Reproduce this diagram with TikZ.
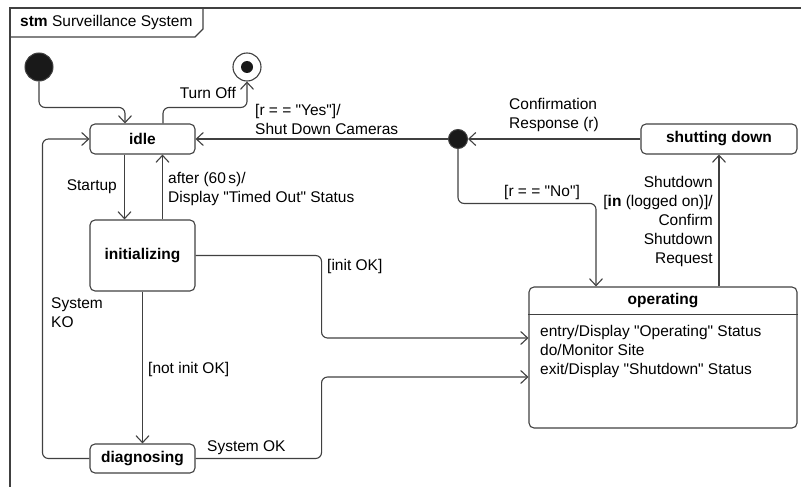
\documentclass[tikz,border=0pt]{standalone}
\usepackage{fontspec}
\setmainfont{Liberation Sans}
\usetikzlibrary{arrows.meta}
\newcommand\qt[1]{\textquotedbl#1\textquotedbl}
\begin{document}
\begin{tikzpicture}[x=1pt,y=-1pt,
  every node/.style={font=\fontsize{15.5}{19}\selectfont, inner sep=0pt},
  ln/.style={draw=black!75, line width=1.1pt},
  state/.style={ln, rounded corners=5pt, font=\fontsize{15.5}{19}\selectfont\bfseries},
  tr/.style={ln, rounded corners=6pt, -{Straight Barb[length=7pt,width=13pt,line width=1.1pt]}},
  lbl/.style={align=left},
  pseudo/.style={circle, fill=black!90, draw=black!75, line width=1pt}]
\useasboundingbox (0,0) rectangle (801,487);

% frame and title tab
\draw[ln] (801,8) -- (10,8) -- (10,487);
\draw[ln] (10,37) -- (195,37) -- (203,29) -- (203,8);
\node[anchor=west] (title) at (20,22) {\textbf{stm} Surveillance System};

% pseudostates
\node[pseudo, minimum size=28pt] (init) at (39,67) {};
\node[circle, ln, minimum size=28pt, fill=white] (final) at (247,67) {};
\node[circle, fill=black!90, minimum size=12pt] (finaldot) at (final.center) {};
\node[pseudo, minimum size=19pt] (junc) at (458,139) {};

% states
\node[state, minimum width=105pt, minimum height=30pt] (idle) at (142.5,139) {idle};
\node[state, minimum width=105pt, minimum height=71pt] (ini) at (142.5,255.5) {initializing};
\node[state, minimum width=105pt, minimum height=29pt] (diag) at (142.5,458.5) {diagnosing};
\node[state, minimum width=156pt, minimum height=30pt] (sd) at (719,139) {shutting down};
\node[state, minimum width=268pt, minimum height=141pt] (op) at (663,357.5) {};
\draw[ln] ([yshift=-28pt]op.north west) -- ([yshift=-28pt]op.north east);
\node[font=\fontsize{15.5}{19}\selectfont\bfseries] (opname) at ([yshift=-14pt]op.north) {operating};
\node[anchor=west, lbl] (opbody) at (540,351) {entry/Display \qt{Operating} Status\\do/Monitor Site\\exit/Display \qt{Shutdown} Status};

% transitions
\draw[tr] (init.south) |- ([xshift=-17.5pt,yshift=16pt]idle.north) -- ([xshift=-17.5pt]idle.north);
\draw[tr] ([xshift=20.5pt]idle.north) -- ++(0,-16) -| (final.south);
\draw[tr] (junc.west) -- (idle.east);
\draw[tr] (sd.west) -- (junc.east);
\draw[tr] (junc.south) |- ([xshift=-67pt,yshift=83pt]op.north) -- ([xshift=-67pt]op.north);
\draw[tr] (op.north -| sd.south) -- (sd.south);
\draw[tr] ([xshift=-18pt]idle.south) -- ([xshift=-18pt]ini.north);
\draw[tr] ([xshift=20pt]ini.north) -- ([xshift=20pt]idle.south);
\draw[tr] (ini.south) -- (diag.north);
\draw[tr] (diag.west) -- ++(-47,0) |- (idle.west);
\draw[tr] (ini.east) -- ++(126,0) |- ([yshift=19.5pt]op.west);
\draw[tr] (diag.east) -- ++(126,0) |- ([yshift=-19.5pt]op.west);

% transition labels
\node[anchor=east] (lturnoff) at (236,93) {Turn Off};
\node[anchor=west, lbl] (lyes) at (255,119) {[r = = \qt{Yes}]/\\Shut Down Cameras};
\node[anchor=west, lbl] (lconf) at (509,114.5) {Confirmation\\Response (r)};
\node[anchor=west] (lno) at (504,192) {[r = = \qt{No}]};
\node[anchor=east, align=right] (lshut) at (713,221) {Shutdown\\{}[\textbf{in} (logged on)]/\\Confirm\\Shutdown\\Request};
\node[anchor=east] (lstart) at (117,187) {Startup};
\node[anchor=west, lbl] (lafter) at (168,188.5) {after (60\,s)/\\Display \qt{Timed Out} Status};
\node[anchor=west, lbl] (lko) at (51,312.5) {System\\KO};
\node[anchor=west] (linit) at (327,266) {[init OK]};
\node[anchor=west] (lnot) at (148,369) {[not init OK]};
\node[anchor=west] (lsysok) at (207,448) {System OK};
\end{tikzpicture}
\end{document}
